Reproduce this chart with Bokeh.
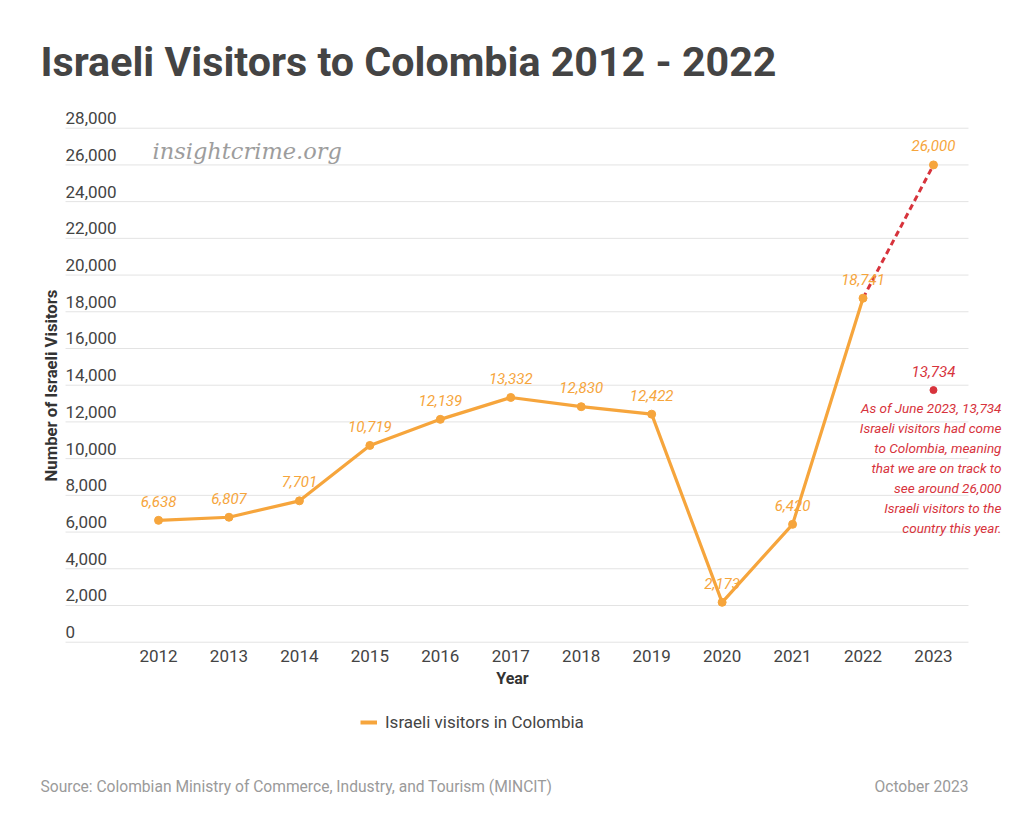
import math
from bokeh.plotting import figure
from bokeh.layouts import column
from bokeh.models import (ColumnDataSource, FixedTicker, Label, Legend, LegendItem, Range1d)
from bokeh.core.properties import value
from bokeh.embed import file_html
from bokeh.resources import INLINE

# ---- data ----
years = [2012, 2013, 2014, 2015, 2016, 2017, 2018, 2019, 2020, 2021, 2022]
visitors = [6638, 6807, 7701, 10719, 12139, 13332, 12830, 12422, 2173, 6420, 18741]
labels = ["6,638", "6,807", "7,701", "10,719", "12,139", "13,332", "12,830",
          "12,422", "2,173", "6,420", "18,741"]
proj_years = [2022, 2023]
proj_values = [18741, 26000]
proj_label = "26,000"
june_year = [2023]
june_value = [13734]
june_label = "13,734"
x_ticks = [2012, 2013, 2014, 2015, 2016, 2017, 2018, 2019, 2020, 2021, 2022, 2023]
y_ticks = [0, 2000, 4000, 6000, 8000, 10000, 12000, 14000, 16000, 18000, 20000,
           22000, 24000, 26000, 28000]
y_tick_labels = ["0", "2,000", "4,000", "6,000", "8,000", "10,000", "12,000", "14,000",
                 "16,000", "18,000", "20,000", "22,000", "24,000", "26,000", "28,000"]
note_lines = ["As of June 2023, 13,734", "Israeli visitors had come",
              "to Colombia, meaning", "that we are on track to",
              "see around 26,000", "Israeli visitors to the", "country this year."]
legend_label = "Israeli visitors in Colombia"

ORANGE = "#f6a53c"
RED = "#d7333c"
FONT = "Roboto"

GRID_X0, GRID_X1 = 2010.680, 2023.497

p = figure(width=1024, height=700, output_backend="svg", toolbar_location=None,
           x_range=Range1d(2009.757, 2024.292), y_range=Range1d(-234, 34957),
           y_axis_location=None,
           min_border_left=0, min_border_right=0, min_border_top=0,
           min_border_bottom=54)
p.outline_line_color = None
p.background_fill_color = "white"
p.border_fill_color = "white"

# x axis
p.xaxis.ticker = FixedTicker(ticks=x_ticks)
p.xaxis.axis_line_color = None
p.xaxis.major_tick_line_color = None
p.xaxis.minor_tick_line_color = None
p.xaxis.major_label_text_font = FONT
p.xaxis.major_label_text_font_size = "17px"
p.xaxis.major_label_text_color = "#444444"
p.xaxis.major_label_standoff = -3
p.xaxis.axis_label = "Year"
p.xaxis.axis_label_text_font = FONT
p.xaxis.axis_label_text_font_style = "bold"
p.xaxis.axis_label_text_font_size = "16px"
p.xaxis.axis_label_text_color = "#333333"
p.xaxis.axis_label_standoff = 4

p.xgrid.grid_line_color = None
p.ygrid.grid_line_color = None

# horizontal grid lines (limited to the plotting area)
gsrc = ColumnDataSource(dict(x0=[GRID_X0] * len(y_ticks), x1=[GRID_X1] * len(y_ticks),
                             y=y_ticks, t=y_tick_labels))
p.segment(x0="x0", y0="y", x1="x1", y1="y", source=gsrc, line_color="#e3e3e3",
          line_width=1)

# y tick labels sitting above grid lines
p.text("x0", "y", text="t", source=gsrc, text_font=value(FONT), text_font_size="17px",
       text_color="#444444", text_align="left", text_baseline="middle", y_offset=-10)

# y axis title
p.add_layout(Label(x=51, y=646 - 385, x_units="screen", y_units="screen",
                   text="Number of Israeli Visitors", angle=math.pi / 2,
                   text_font=FONT, text_font_style="bold", text_font_size="16.7px",
                   text_color="#333333", text_align="center", text_baseline="middle"))

# projection (dashed)
p.line(proj_years, proj_values, line_color=RED, line_width=3, line_dash="6 4")

# main series
src = ColumnDataSource(dict(x=years, y=visitors, t=labels))
main = p.line("x", "y", source=src, line_color=ORANGE, line_width=3.2)
p.scatter("x", "y", source=src, size=8, fill_color=ORANGE, line_color=ORANGE)
p.text("x", "y", text="t", source=src, text_font=value(FONT), text_font_style="italic",
       text_font_size="15px", text_color=ORANGE, text_align="center",
       text_baseline="middle", y_offset=-19)

# 2023 projected point
p.scatter(proj_years[1:], proj_values[1:], size=8, fill_color=ORANGE, line_color=ORANGE)
p.text(proj_years[1:], proj_values[1:], text=[proj_label], text_font=value(FONT),
       text_font_style="italic", text_font_size="15px", text_color=ORANGE,
       text_align="center", text_baseline="middle", y_offset=-19)

# June 2023 point
p.scatter(june_year, june_value, size=7, fill_color=RED, line_color=RED)
p.text(june_year, june_value, text=[june_label], text_font=value(FONT),
       text_font_style="italic", text_font_size="15px", text_color=RED,
       text_align="center", text_baseline="middle", y_offset=-19)

# note lines (right aligned)
for i, line in enumerate(note_lines):
    p.add_layout(Label(x=june_year[0], y=june_value[0], x_offset=68,
                       y_offset=-(17.5 + 20 * i),
                       text=line, text_font=FONT, text_font_style="italic",
                       text_font_size="13.5px", text_color=RED, text_align="right",
                       text_baseline="middle"))

# title and watermark
p.add_layout(Label(x=40, y=646 - 61, x_units="screen", y_units="screen",
                   text="Israeli Visitors to Colombia 2012 - 2022", text_font=FONT,
                   text_font_style="bold", text_font_size="41.2px", text_color="#444444",
                   text_baseline="middle"))
p.add_layout(Label(x=152, y=646 - 150, x_units="screen", y_units="screen",
                   text="insightcrime.org", text_font="DejaVu Serif",
                   text_font_style="italic", text_font_size="22.5px", text_color="#9d9d9d",
                   text_baseline="middle"))

# footer: legend + source line
f = figure(width=1024, height=115, output_backend="svg", toolbar_location=None,
           x_range=Range1d(0, 1), y_range=Range1d(0, 1),
           x_axis_location=None, y_axis_location=None,
           min_border_left=0, min_border_right=0, min_border_top=0, min_border_bottom=0)
f.outline_line_color = None
f.xgrid.grid_line_color = None
f.ygrid.grid_line_color = None
swatch = f.line(x=[float("nan")], y=[float("nan")], line_color=ORANGE, line_width=4)
legend = Legend(items=[LegendItem(label=legend_label, renderers=[swatch])],
                location=(360, 83), orientation="horizontal", padding=0, margin=0,
                glyph_width=17, glyph_height=20, label_standoff=8,
                label_text_font=FONT, label_text_font_size="17px",
                label_text_color="#444444", background_fill_alpha=0,
                border_line_color=None)
f.add_layout(legend, "center")
f.add_layout(Label(x=40, y=29, x_units="screen", y_units="screen",
                   text="Source: Colombian Ministry of Commerce, Industry, and Tourism (MINCIT)",
                   text_font=FONT, text_font_size="15.6px", text_color="#9a9a9a",
                   text_baseline="middle"))
f.add_layout(Label(x=968, y=29, x_units="screen", y_units="screen",
                   text="October 2023", text_font=FONT, text_font_size="15.6px",
                   text_color="#9a9a9a", text_align="right", text_baseline="middle"))

layout = column(p, f, spacing=0)
open("out.html", "w").write(file_html(layout, INLINE))
